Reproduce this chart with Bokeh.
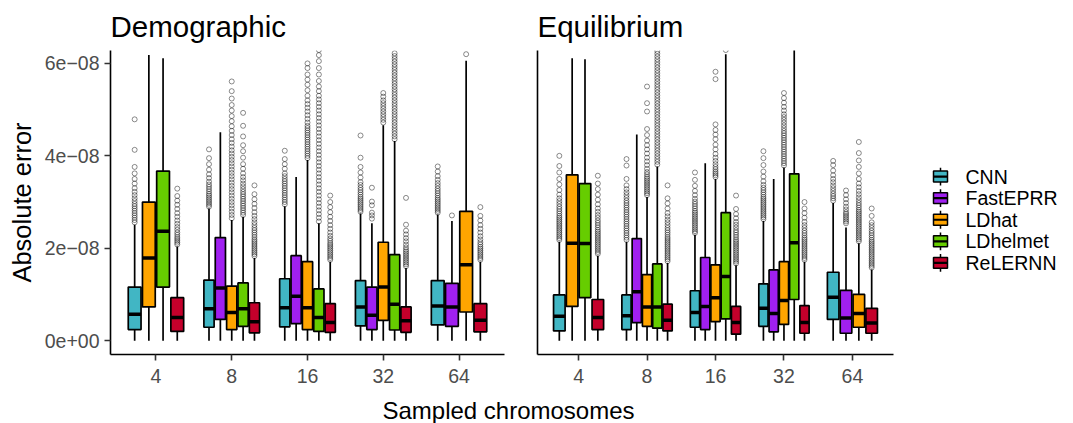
from bokeh.plotting import figure
from bokeh.models import Range1d, FixedTicker, ColumnDataSource
from bokeh.layouts import row, column
from bokeh.embed import file_html
from bokeh.resources import INLINE
from bokeh.core.properties import value

FONT = "Liberation Sans"
CATEGORIES = ["4", "8", "16", "32", "64"]
METHODS = ["CNN", "FastEPRR", "LDhat", "LDhelmet", "ReLERNN"]
COLORS = ["#41B6C4", "#A020F0", "#FFA500", "#66CD00", "#C4002B"]
UNIT = 1e-9  # all values below are in units of 1e-9
Y_TICKS = [0, 20, 40, 60]
Y_TICK_LABELS = ["0e+00", "2e\u221208", "4e\u221208", "6e\u221208"]

# ---------------- Demographic ----------------
demo_cat = ["4", "4", "4", "4",
            "8", "8", "8", "8", "8",
            "16", "16", "16", "16", "16",
            "32", "32", "32", "32", "32",
            "64", "64", "64", "64"]
demo_method = ["CNN", "LDhat", "LDhelmet", "ReLERNN",
               "CNN", "FastEPRR", "LDhat", "LDhelmet", "ReLERNN",
               "CNN", "FastEPRR", "LDhat", "LDhelmet", "ReLERNN",
               "CNN", "FastEPRR", "LDhat", "LDhelmet", "ReLERNN",
               "CNN", "FastEPRR", "LDhat", "ReLERNN"]
demo_lo = [0.0] * 23
demo_q1 = [2.4, 7.3, 11.6, 2.0,
           2.9, 4.6, 2.4, 3.1, 1.7,
           3.0, 3.7, 2.4, 2.0, 1.8,
           3.2, 2.4, 4.4, 2.3, 1.8,
           3.4, 3.1, 6.2, 1.9]
demo_med = [5.7, 17.9, 23.7, 5.0,
            6.9, 11.4, 6.1, 6.9, 4.1,
            7.1, 9.6, 7.1, 5.0, 3.9,
            7.3, 5.5, 11.6, 7.9, 4.3,
            7.5, 7.3, 16.4, 4.4]
demo_q3 = [11.6, 30.0, 36.7, 9.3,
           13.1, 22.3, 11.8, 12.5, 8.2,
           13.4, 18.4, 17.1, 11.2, 8.0,
           13.0, 11.6, 21.3, 18.6, 7.3,
           13.0, 12.4, 28.0, 8.0]
demo_hi = [25.1, 61.8, 61.1, 20.4,
           28.6, 45.1, 26.1, 26.8, 17.9,
           29.1, 35.4, 39.1, 25.4, 17.1,
           27.5, 25.4, 46.6, 43.2, 15.7,
           27.3, 25.9, 60.6, 17.1]
demo_out = [
    [25.6, 26.1, 26.6, 27.1, 27.6, 28.1, 28.6, 29.1, 29.6, 30.2, 30.8, 31.5, 32.2, 33.0, 34.0, 35.0, 36.2, 37.6, 41.3, 47.9],
    [],
    [],
    [20.8, 21.2, 21.6, 22.0, 22.4, 22.9, 23.4, 24.0, 24.6, 25.3, 26.0, 26.8, 27.6, 28.5, 29.4, 30.3, 31.3, 32.9],
    [29.0, 29.4, 29.8, 30.2, 30.6, 31.0, 31.4, 31.8, 32.3, 32.8, 33.3, 33.8, 34.4, 35.2, 36.0, 37.0, 38.2, 39.5, 41.4],
    [],
    [26.5, 27.2, 27.9, 28.6, 29.3, 30.0, 30.7, 31.4, 32.1, 32.8, 33.5, 34.2, 34.9, 35.6, 36.3, 37.0, 37.7, 38.4, 39.1, 39.8,
     40.5, 41.2, 42.0, 42.8, 43.6, 44.5, 45.4, 46.4, 47.5, 48.6, 49.8, 51.0, 52.4, 54.0, 56.1],
    [27.2, 27.7, 28.2, 28.7, 29.2, 29.7, 30.2, 30.7, 31.2, 31.7, 32.2, 32.8, 33.4, 34.0, 34.7, 35.4, 36.2, 37.2, 38.2, 39.6,
     41.0, 42.3, 44.2, 46.5, 49.3],
    [18.3, 18.7, 19.1, 19.5, 19.9, 20.3, 20.7, 21.1, 21.5, 21.9, 22.4, 22.9, 23.4, 23.9, 24.4, 25.0, 25.6, 26.3, 27.0, 27.8,
     28.7, 29.6, 30.6, 31.7, 33.6],
    [29.5, 30.0, 30.5, 31.0, 31.5, 32.0, 32.5, 33.0, 33.5, 34.0, 34.5, 35.0, 35.6, 36.2, 37.2, 38.2, 39.3, 41.1],
    [],
    [39.5, 40.0, 40.5, 41.0, 41.5, 42.0, 42.5, 43.0, 43.5, 44.0, 44.5, 45.0, 45.5, 46.0, 46.5, 47.2, 48.0, 48.8, 49.6, 50.4,
     51.2, 52.0, 53.0, 54.2, 55.4, 56.5, 57.6, 59.0, 60.0],
    [25.8, 26.6, 27.4, 28.2, 29.0, 29.8, 30.6, 31.4, 32.2, 33.0, 33.8, 34.6, 35.4, 36.2, 37.0, 37.8, 38.6, 39.4, 40.2, 41.0,
     41.8, 42.6, 43.4, 44.2, 45.0, 45.8, 46.6, 47.4, 48.2, 49.0, 49.8, 50.6, 51.4, 52.2, 53.0, 54.0, 55.0, 56.2, 57.6, 59.0,
     60.5, 61.8, 62.9],
    [17.5, 17.9, 18.3, 18.7, 19.1, 19.5, 19.9, 20.3, 20.7, 21.1, 21.6, 22.1, 22.7, 23.4, 24.2, 25.0, 25.9, 26.8, 27.8, 28.9,
     30.0, 31.4],
    [27.9, 28.3, 28.7, 29.1, 29.5, 29.9, 30.3, 30.7, 31.1, 31.6, 32.1, 32.6, 33.1, 33.7, 34.3, 35.3, 36.4, 37.6, 39.6, 44.4],
    [26.4, 27.1, 27.7, 29.3, 30.1, 33.1],
    [47.2, 47.8, 48.4, 49.0, 49.6, 50.2, 50.8, 51.4, 52.0, 52.8, 53.6],
    [43.6, 44.2, 44.8, 45.4, 46.0, 46.6, 47.2, 47.8, 48.4, 49.0, 49.6, 50.2, 50.8, 51.4, 52.0, 52.6, 53.2, 53.8, 54.4, 55.0,
     55.6, 56.2, 56.8, 57.4, 58.0, 58.6, 59.2, 59.8, 60.4, 61.0, 61.6, 62.2],
    [16.1, 16.5, 16.9, 17.3, 17.7, 18.1, 18.5, 18.9, 19.3, 19.7, 20.2, 20.8, 21.5, 22.2, 23.0, 23.8, 25.1, 30.9],
    [27.7, 28.1, 28.5, 28.9, 29.3, 29.7, 30.1, 30.5, 30.9, 31.4, 31.9, 32.4, 32.9, 33.5, 34.1, 34.8, 35.6, 36.6, 37.7],
    [27.1],
    [62.0],
    [17.5, 17.9, 18.3, 18.7, 19.1, 19.5, 19.9, 20.3, 20.8, 21.3, 21.9, 22.6, 23.4, 24.2, 25.0, 26.0, 27.0, 28.9],
]

# ---------------- Equilibrium ----------------
eq_cat = list(demo_cat)
eq_method = list(demo_method)
eq_lo = [0.0] * 23
eq_q1 = [2.1, 7.4, 9.3, 2.4,
         2.4, 3.9, 3.1, 2.7, 2.1,
         2.9, 2.4, 4.1, 4.7, 1.4,
         3.1, 1.9, 3.5, 8.9, 1.6,
         4.6, 1.6, 2.9, 1.6]
eq_med = [5.3, 21.1, 21.0, 5.0,
          5.4, 10.6, 7.3, 7.3, 4.4,
          6.1, 7.4, 9.3, 13.9, 3.9,
          7.0, 5.9, 8.7, 21.2, 3.9,
          9.4, 4.9, 5.9, 3.8]
eq_q3 = [9.9, 35.9, 34.0, 8.9,
         9.9, 22.1, 14.3, 16.6, 7.9,
         10.8, 18.0, 16.4, 27.7, 7.4,
         12.3, 15.3, 17.1, 36.1, 7.6,
         14.8, 10.9, 10.0, 7.0]
eq_hi = [21.4, 61.1, 60.9, 18.4,
         21.4, 44.6, 31.1, 37.7, 16.8,
         22.9, 38.4, 35.0, 62.0, 16.3,
         25.9, 35.0, 37.5, 64.0, 17.1,
         29.8, 24.5, 21.1, 15.4]
eq_out = [
    [21.8, 22.2, 22.6, 23.0, 23.4, 23.8, 24.2, 24.6, 25.0, 25.4, 25.8, 26.2, 26.6, 27.0, 27.5, 28.0, 28.5, 29.0, 29.6, 30.2,
     30.8, 31.6, 32.6, 33.8, 35.0, 36.4, 37.8, 40.0],
    [],
    [],
    [18.8, 19.2, 19.6, 20.0, 20.4, 20.8, 21.2, 21.6, 22.0, 22.4, 22.8, 23.2, 23.6, 24.0, 24.5, 25.0, 25.5, 26.0, 26.6, 27.2,
     27.9, 28.6, 29.5, 30.5, 31.6, 32.8, 34.0, 35.7],
    [21.8, 22.3, 22.8, 23.3, 23.8, 24.3, 24.8, 25.3, 25.8, 26.3, 26.8, 27.3, 27.8, 28.3, 28.8, 29.3, 29.8, 30.3, 30.9, 31.5,
     32.1, 32.8, 33.6, 35.0, 37.9, 39.3],
    [],
    [31.5, 31.9, 32.3, 32.7, 33.1, 33.5, 33.9, 34.3, 34.7, 35.1, 35.5, 36.0, 36.5, 37.2, 38.0, 38.8, 39.6, 40.5, 41.4, 42.3,
     43.3, 44.5, 45.8, 49.6, 51.4, 55.0],
    [38.1, 38.7, 39.3, 39.9, 40.5, 41.1, 41.7, 42.3, 42.9, 43.5, 44.1, 44.7, 45.3, 45.9, 46.5, 47.1, 47.7, 48.3, 48.9, 49.5,
     50.1, 50.7, 51.3, 51.9, 52.5, 53.1, 53.7, 54.3, 54.9, 55.5, 56.1, 56.7, 57.3, 57.9, 58.5, 59.1, 59.7, 60.3, 60.9, 61.5,
     62.1, 62.7],
    [17.2, 17.6, 18.0, 18.4, 18.8, 19.2, 19.6, 20.0, 20.4, 20.8, 21.2, 21.6, 22.0, 22.4, 22.9, 23.4, 23.9, 24.4, 25.0, 25.6,
     26.2, 26.9, 27.6, 28.6, 29.7, 30.8, 33.6],
    [23.3, 23.7, 24.1, 24.5, 24.9, 25.3, 25.7, 26.1, 26.5, 26.9, 27.3, 27.7, 28.1, 28.6, 29.1, 29.6, 30.1, 30.7, 31.5, 32.4,
     33.5, 34.8, 36.4],
    [],
    [35.4, 35.8, 36.2, 36.6, 37.1, 37.6, 38.2, 38.9, 39.6, 40.4, 41.4, 42.4, 43.6, 44.6, 45.6, 46.8, 56.6, 58.2],
    [62.9],
    [16.7, 17.1, 17.5, 17.9, 18.3, 18.7, 19.1, 19.5, 19.9, 20.3, 20.7, 21.1, 21.5, 21.9, 22.4, 22.9, 23.4, 23.9, 24.5, 25.1,
     25.7, 26.5, 27.4, 28.5, 31.4],
    [26.3, 26.7, 27.1, 27.5, 27.9, 28.3, 28.7, 29.1, 29.5, 29.9, 30.3, 30.7, 31.1, 31.6, 32.1, 32.6, 33.1, 33.7, 34.5, 35.5,
     36.6, 38.0, 39.5, 41.0],
    [],
    [37.9, 38.4, 38.9, 39.4, 39.9, 40.4, 40.9, 41.4, 41.9, 42.4, 42.9, 43.4, 43.9, 44.4, 44.9, 45.4, 46.0, 46.6, 47.2, 47.8,
     48.4, 49.0, 49.8, 50.6, 51.5, 52.5, 53.6],
    [],
    [17.5, 17.9, 18.3, 18.7, 19.1, 19.5, 19.9, 20.3, 20.7, 21.1, 21.5, 21.9, 22.3, 22.8, 23.3, 23.8, 24.4, 25.0, 25.7, 26.6,
     27.6, 28.6, 30.0],
    [30.3, 30.8, 31.3, 31.8, 32.4, 33.0, 33.6, 34.3, 35.0, 35.8, 36.8, 38.0, 38.9],
    [25.4, 25.8, 26.2, 26.6, 27.0, 27.4, 27.8, 28.4, 29.0, 29.8, 30.6, 31.5, 32.5],
    [21.5, 21.9, 22.3, 22.7, 23.1, 23.5, 23.9, 24.3, 24.7, 25.1, 25.5, 25.9, 26.3, 26.7, 27.1, 27.5, 27.9, 28.3, 28.8, 29.3,
     29.8, 30.4, 31.0, 31.7, 32.4, 33.2, 34.0, 35.0, 36.2, 37.6, 39.0, 40.6, 43.0],
    [15.8, 16.2, 16.6, 17.0, 17.4, 17.8, 18.2, 18.6, 19.0, 19.4, 19.8, 20.2, 20.6, 21.0, 21.4, 21.8, 22.3, 22.8, 23.3, 23.8,
     24.4, 25.0, 25.6, 27.0, 28.6],
]

PANEL_H = 390
MB_TOP = 47
MB_BOTTOM = 36


def style_axis(ax, labels=True, ticks=True, standoff=5):
    ax.axis_line_color = "black"
    ax.axis_line_width = 1.6
    ax.major_tick_line_color = "#333333"
    ax.major_tick_line_width = 1.6
    ax.major_tick_out = 6 if ticks else 0
    ax.major_tick_in = 0
    ax.minor_tick_out = 0
    ax.minor_tick_in = 0
    ax.major_label_text_font = FONT
    ax.major_label_text_font_size = "19.5px" if labels else "0px"
    ax.major_label_text_color = "#4D4D4D"
    ax.major_label_standoff = standoff if labels else 0


def make_panel(title, cats, meths, lo, q1, med, q3, hi, outs, width, mb_left, mb_right, yaxis_labels):
    p = figure(width=width, height=PANEL_H, x_range=Range1d(0.4, 5.6), y_range=Range1d(-3.0, 62.8),
               output_backend="svg", toolbar_location=None,
               min_border_left=mb_left, min_border_right=mb_right,
               min_border_top=MB_TOP, min_border_bottom=MB_BOTTOM)
    p.title.text = title
    p.title.text_font = FONT
    p.title.text_font_size = "29.5px"
    p.title.text_font_style = "normal"
    p.title.text_color = "black"
    p.title.align = "left"
    p.title.standoff = 15
    p.outline_line_color = None
    p.xgrid.visible = False
    p.ygrid.visible = False
    p.background_fill_color = "white"
    p.border_fill_color = "white"

    xs, ws, cols = [], [], []
    for c, m in zip(cats, meths):
        present = [mm for cc, mm in zip(cats, meths) if cc == c]
        n = len(present)
        k = present.index(m)
        slot = 0.75 / n
        xs.append(CATEGORIES.index(c) + 1 + (k - (n - 1) / 2) * slot)
        ws.append(0.9 * slot)
        cols.append(COLORS[METHODS.index(m)])

    ox, oy = [], []
    for x, o in zip(xs, outs):
        ox += [x] * len(o)
        oy += [v for v in o]
    p.scatter(ox, oy, marker="circle", size=5, fill_color=None, line_color="black", line_alpha=0.45, line_width=1)

    src = ColumnDataSource(dict(x=xs, w=ws, x0=[x - w / 2 for x, w in zip(xs, ws)],
                                x1=[x + w / 2 for x, w in zip(xs, ws)],
                                lo=lo, q1=q1, med=med, q3=q3, hi=hi, color=cols))
    p.segment(x0="x", y0="q3", x1="x", y1="hi", source=src, line_color="black", line_width=1.7)
    p.segment(x0="x", y0="lo", x1="x", y1="q1", source=src, line_color="black", line_width=1.7)
    p.vbar(x="x", width="w", top="q3", bottom="q1", source=src, fill_color="color",
           line_color="black", line_width=1.7)
    p.segment(x0="x0", y0="med", x1="x1", y1="med", source=src, line_color="black", line_width=3.5)

    style_axis(p.xaxis[0], standoff=8)
    p.xaxis.ticker = FixedTicker(ticks=list(range(1, len(CATEGORIES) + 1)))
    p.xaxis.major_label_overrides = {i + 1: c for i, c in enumerate(CATEGORIES)}
    style_axis(p.yaxis[0], labels=yaxis_labels, ticks=yaxis_labels, standoff=5)
    p.yaxis.ticker = FixedTicker(ticks=Y_TICKS)
    p.yaxis.major_label_overrides = dict(zip(Y_TICKS, Y_TICK_LABELS if yaxis_labels else [""] * 4))
    if yaxis_labels:
        p.yaxis.axis_label = "Absolute error"
        p.yaxis.axis_label_text_font = FONT
        p.yaxis.axis_label_text_font_size = "25.5px"
        p.yaxis.axis_label_text_font_style = "normal"
        p.yaxis.axis_label_text_color = "black"
        p.yaxis.axis_label_standoff = 6
    return p


left = make_panel("Demographic", demo_cat, demo_method, demo_lo, demo_q1, demo_med, demo_q3, demo_hi,
                  demo_out, 520, 110, 16, True)
right = make_panel("Equilibrium", eq_cat, eq_method, eq_lo, eq_q1, eq_med, eq_q3, eq_hi,
                   eq_out, 385, 17, 12, False)

# legend (drawn as boxplot keys); its frame lines up with the panels' frames,
# so its y range is expressed in page pixels from the top.
LEG_W = 168
lg = figure(width=LEG_W, height=PANEL_H, x_range=Range1d(0, LEG_W),
            y_range=Range1d(PANEL_H - MB_BOTTOM, MB_TOP),
            output_backend="svg", toolbar_location=None,
            min_border_left=0, min_border_right=0, min_border_top=MB_TOP, min_border_bottom=MB_BOTTOM,
            x_axis_location=None, y_axis_location=None)
lg.outline_line_color = None
lg.xgrid.visible = False
lg.ygrid.visible = False
ky = [174.3 + i * 21.8 for i in range(len(METHODS))]
lsrc = ColumnDataSource(dict(y=ky, t=[y - 5.5 for y in ky], b=[y + 5.5 for y in ky],
                             wt=[y - 9 for y in ky], wb=[y + 9 for y in ky], color=COLORS, label=METHODS))
lg.segment(x0=35, y0="wt", x1=35, y1="wb", source=lsrc, line_color="black", line_width=1.5)
lg.quad(left=28, right=42, top="t", bottom="b", source=lsrc, fill_color="color", line_color="black", line_width=1.5)
lg.segment(x0=28, y0="y", x1=42, y1="y", source=lsrc, line_color="black", line_width=2.2)
lg.text(x=60, y="y", text="label", source=lsrc, text_font=value(FONT), text_font_size="19.5px",
        text_baseline="middle", text_align="left", text_color="black")

# shared x-axis title
XL_H = 33
xl = figure(width=1073, height=XL_H, x_range=Range1d(0, 1073), y_range=Range1d(XL_H, 0),
            output_backend="svg", toolbar_location=None, min_border=0,
            x_axis_location=None, y_axis_location=None)
xl.outline_line_color = None
xl.xgrid.visible = False
xl.ygrid.visible = False
xl.text(x=[508], y=[20], text=["Sampled chromosomes"], text_font=value(FONT), text_font_size="24px",
        text_align="center", text_baseline="alphabetic", text_color="black")

layout = column(row(left, right, lg), xl)
open("out.html", "w").write(file_html(layout, INLINE))
